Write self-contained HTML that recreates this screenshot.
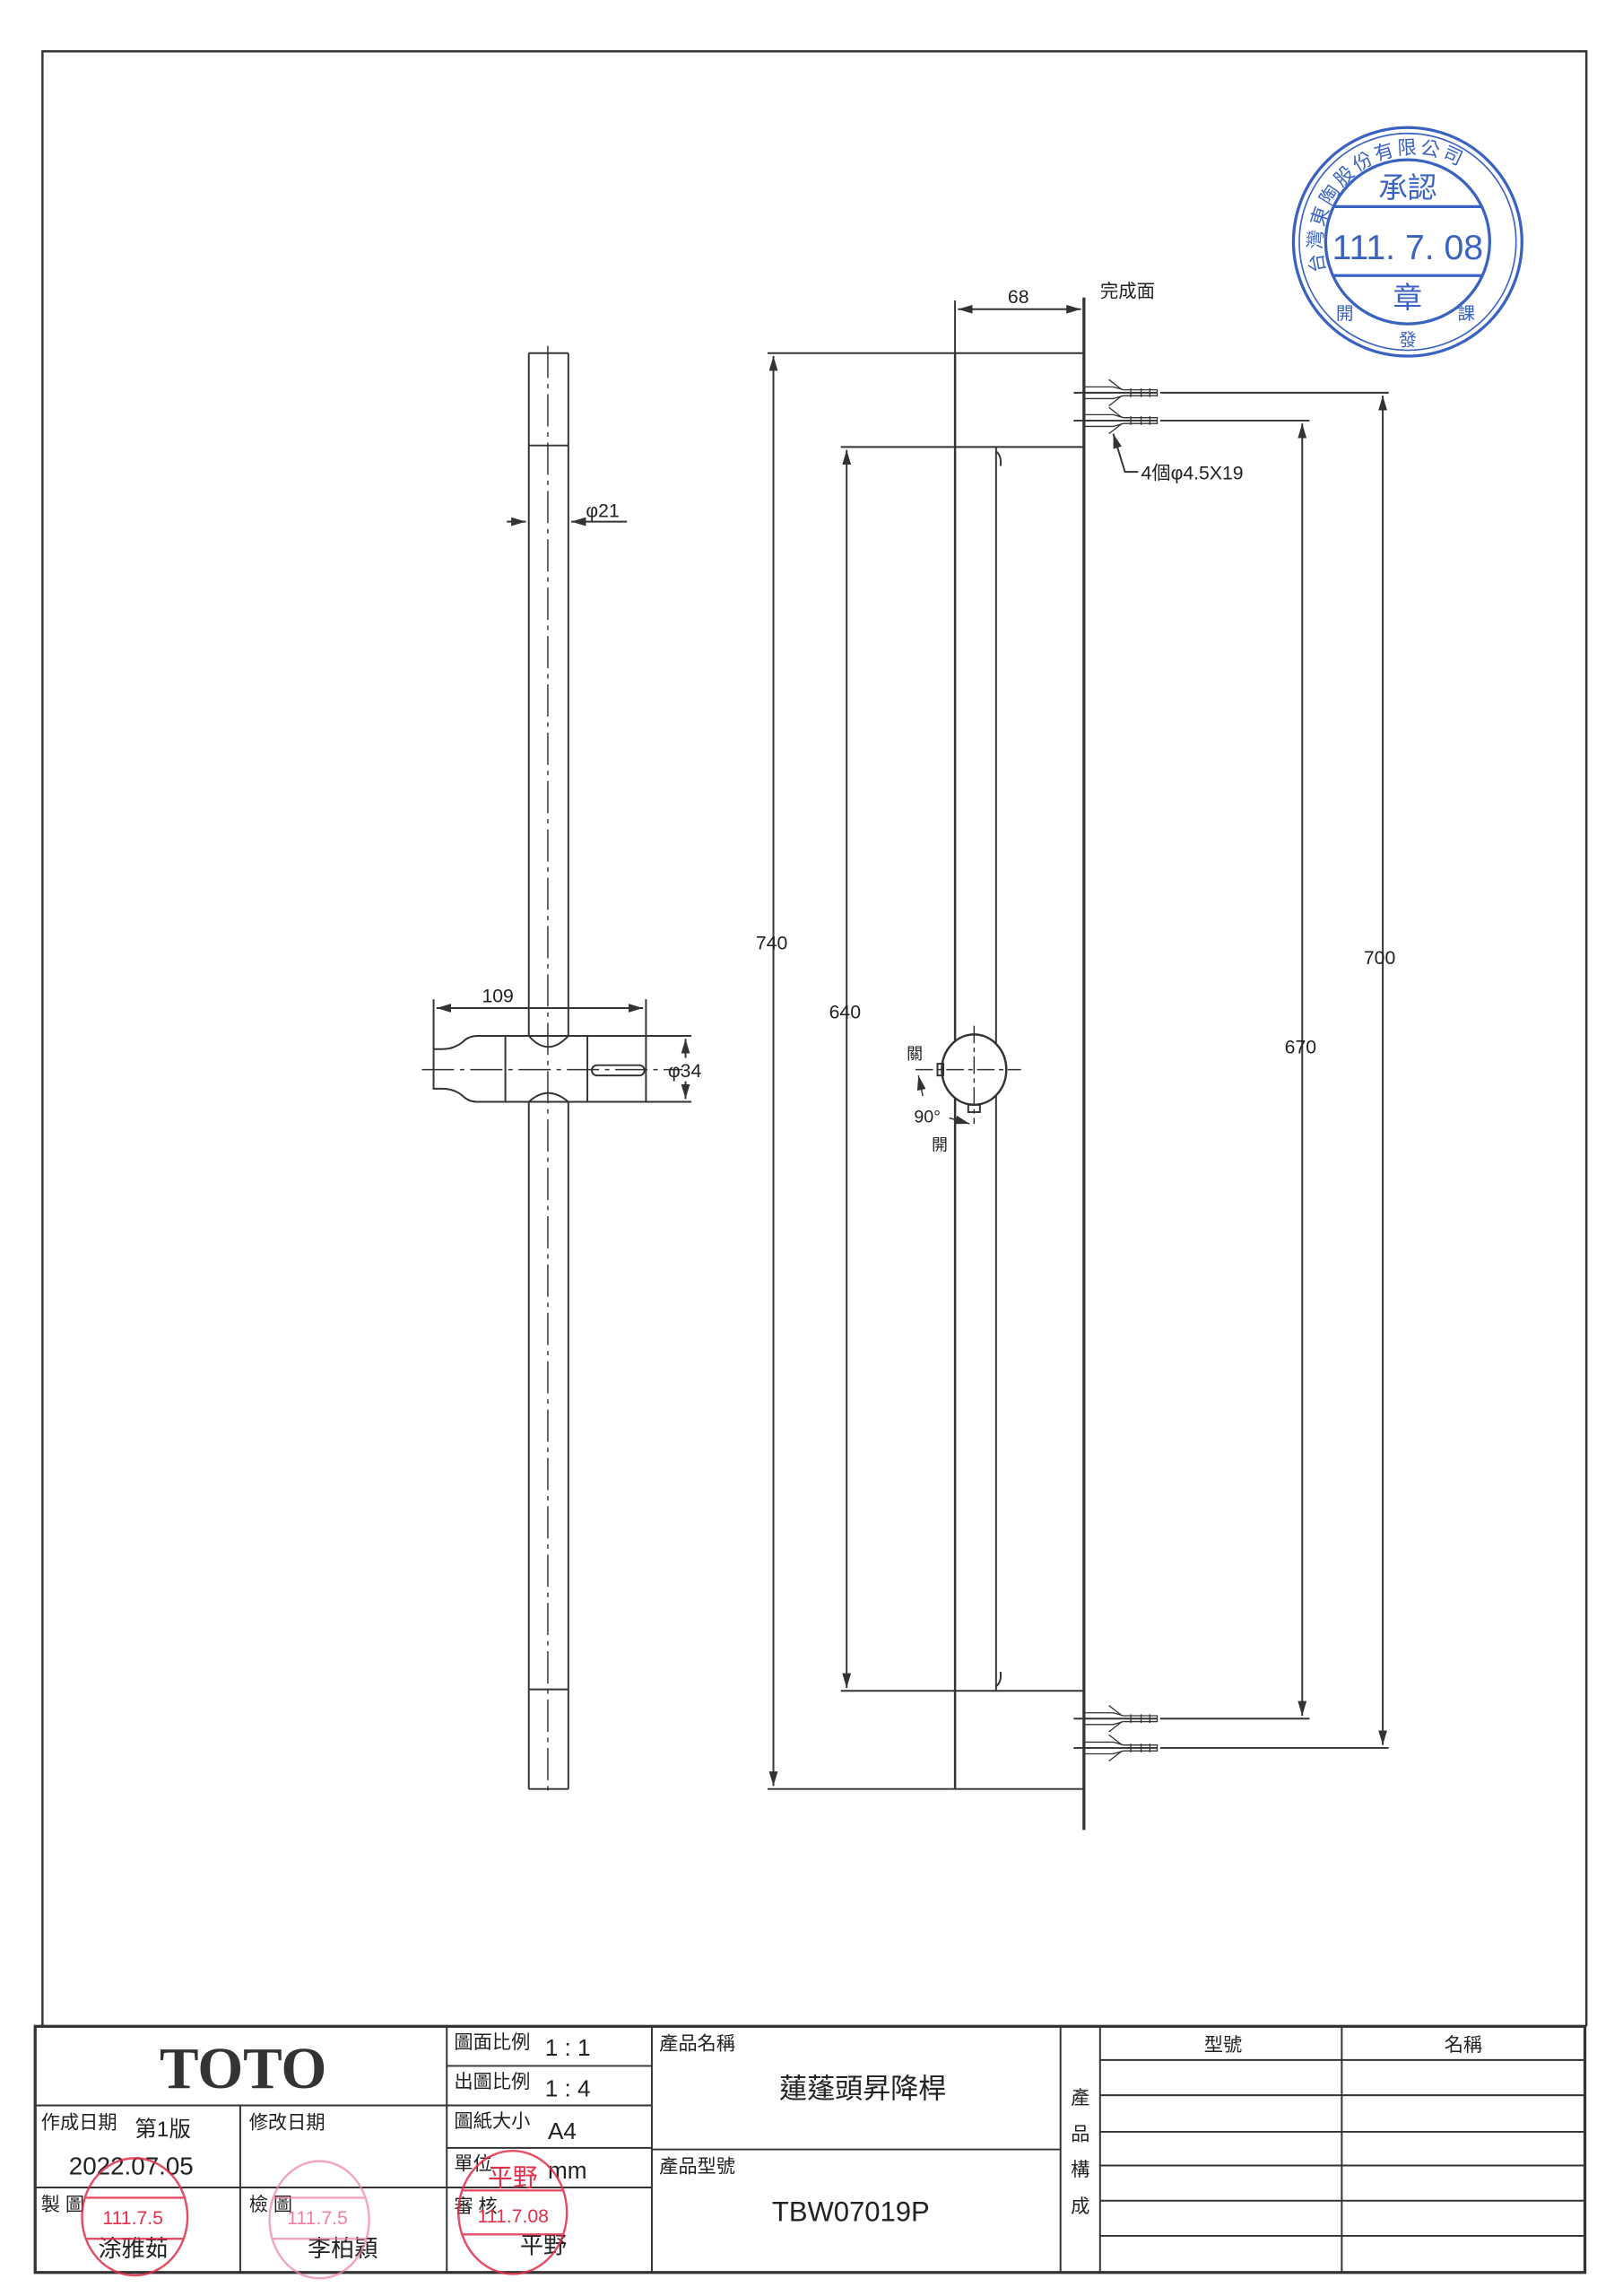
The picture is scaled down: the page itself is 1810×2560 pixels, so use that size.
<!DOCTYPE html>
<html><head><meta charset="utf-8"><style>
html,body{margin:0;padding:0;background:#fff}
svg{display:block}
text{font-family:"Liberation Sans","Noto Sans CJK TC",sans-serif;fill:#222}
</style></head><body>
<svg width="1810" height="2560" viewBox="0 0 1108 1567" xmlns="http://www.w3.org/2000/svg">
<defs>
<marker id="a" markerWidth="10" markerHeight="6" refX="10" refY="3" orient="auto-start-reverse" markerUnits="userSpaceOnUse"><path d="M0,0 L10,3 L0,6 z" fill="#333"/></marker>
</defs>
<rect width="1108" height="1567" fill="#fff"/>
<g stroke="#333" fill="none" stroke-width="1.2">
<polyline points="29,1383 29,35 1083,35 1083,1383" stroke-width="1.5"/>
<rect x="24" y="1383" width="1058" height="168" stroke-width="2"/>
<line x1="24" y1="1437" x2="305" y2="1437"/>
<line x1="24" y1="1493" x2="445" y2="1493"/>
<line x1="164" y1="1437" x2="164" y2="1551"/>
<line x1="305" y1="1383" x2="305" y2="1551"/>
<line x1="445" y1="1383" x2="445" y2="1551"/>
<line x1="724" y1="1383" x2="724" y2="1551"/>
<line x1="751" y1="1383" x2="751" y2="1551"/>
<line x1="916" y1="1383" x2="916" y2="1551"/>
<line x1="305" y1="1410" x2="445" y2="1410"/>
<line x1="305" y1="1437" x2="445" y2="1437"/>
<line x1="305" y1="1466" x2="445" y2="1466"/>
<line x1="445" y1="1467" x2="724" y2="1467"/>
<line x1="751" y1="1406" x2="1082" y2="1406"/>
<line x1="751" y1="1430" x2="1082" y2="1430"/>
<line x1="751" y1="1455" x2="1082" y2="1455"/>
<line x1="751" y1="1478" x2="1082" y2="1478"/>
<line x1="751" y1="1502" x2="1082" y2="1502"/>
<line x1="751" y1="1526" x2="1082" y2="1526"/>

<line x1="361" y1="241" x2="361" y2="707"/>
<line x1="388" y1="241" x2="388" y2="707"/>
<line x1="361" y1="752" x2="361" y2="1221"/>
<line x1="388" y1="752" x2="388" y2="1221"/>
<line x1="361" y1="241" x2="388" y2="241"/>
<line x1="361" y1="1221" x2="388" y2="1221"/>
<line x1="361" y1="304" x2="388" y2="304"/>
<line x1="361" y1="1153" x2="388" y2="1153"/>
<line x1="374" y1="236" x2="374" y2="1226" stroke-dasharray="22,4,3,4" stroke-width="0.9"/>
<path d="M296,716 L302,716 Q310,716 316,711 Q320,707 326,707 L441,707 L441,752 L326,752 Q320,752 316,748 Q310,743 302,743 L296,743 Z"/>
<line x1="345" y1="707" x2="345" y2="752"/>
<line x1="401" y1="707" x2="401" y2="752"/>
<path d="M361,707 Q374,722 388,707"/>
<path d="M361,752 Q374,740 388,752"/>
<rect x="404" y="727" width="36" height="7" rx="3.5"/>
<line x1="288" y1="730" x2="466" y2="730" stroke-dasharray="22,4,3,4" stroke-width="0.9"/>
<line x1="296" y1="716" x2="296" y2="682"/>
<line x1="441" y1="707" x2="441" y2="682"/>
<line x1="298" y1="688" x2="439" y2="688" marker-start="url(#a)" marker-end="url(#a)"/>
<line x1="441" y1="707" x2="472" y2="707"/>
<line x1="441" y1="752" x2="472" y2="752"/>
<line x1="468" y1="709" x2="468" y2="722" marker-start="url(#a)"/>
<line x1="468" y1="738" x2="468" y2="750" marker-end="url(#a)"/>
<line x1="346" y1="356" x2="359" y2="356" marker-end="url(#a)"/>
<line x1="390" y1="356" x2="428" y2="356" marker-start="url(#a)"/>

<line x1="740" y1="203" x2="740" y2="1249" stroke-width="2"/>
<line x1="652" y1="241" x2="652" y2="1221" stroke-width="1.5"/>
<line x1="652" y1="241" x2="740" y2="241"/>
<line x1="652" y1="305" x2="740" y2="305"/>
<line x1="652" y1="1154" x2="740" y2="1154"/>
<line x1="652" y1="1221" x2="740" y2="1221"/>
<line x1="680" y1="305" x2="680" y2="1154"/>
<path d="M680,308 q4,3 3,10"/><path d="M680,1151 q4,-3 3,-10"/>
<line x1="652" y1="241" x2="652" y2="205"/>
<line x1="654" y1="211" x2="738" y2="211" marker-start="url(#a)" marker-end="url(#a)"/>
<line x1="524" y1="241" x2="652" y2="241"/>
<line x1="524" y1="1221" x2="652" y2="1221"/>
<line x1="528" y1="243" x2="528" y2="1219" marker-start="url(#a)" marker-end="url(#a)"/>
<line x1="574" y1="305" x2="652" y2="305"/>
<line x1="574" y1="1154" x2="652" y2="1154"/>
<line x1="578" y1="307" x2="578" y2="1152" marker-start="url(#a)" marker-end="url(#a)"/>
<g id="anc">
<line x1="733" y1="268" x2="790" y2="268"/>
<path d="M740,264 L760,264 L767,266 L790,266 L790,270 L767,270 L760,272 L740,272" stroke-width="0.8"/>
<path d="M757,259 L766,266 M757,277 L766,270" stroke-width="0.8"/>
<line x1="772" y1="265" x2="772" y2="271" stroke-width="0.8"/><line x1="779" y1="265" x2="779" y2="271" stroke-width="0.8"/><line x1="785" y1="265" x2="785" y2="271" stroke-width="0.8"/>
</g>
<use href="#anc" y="19"/>
<use href="#anc" y="905"/>
<use href="#anc" y="925"/>
<line x1="792" y1="268" x2="948" y2="268"/>
<line x1="792" y1="287" x2="894" y2="287"/>
<line x1="792" y1="1173" x2="894" y2="1173"/>
<line x1="792" y1="1193" x2="948" y2="1193"/>
<line x1="944" y1="270" x2="944" y2="1191" marker-start="url(#a)" marker-end="url(#a)"/>
<line x1="889" y1="289" x2="889" y2="1171" marker-start="url(#a)" marker-end="url(#a)"/>
<polyline points="777,322 768,322 760,296" marker-end="url(#a)"/>
<ellipse cx="665" cy="730" rx="22" ry="24" fill="#fff" stroke-width="1.5"/>
<rect x="640" y="726" width="4" height="8"/>
<rect x="661" y="754" width="8" height="5"/>
<line x1="625" y1="730" x2="697" y2="730" stroke-dasharray="12,3,3,3" stroke-width="0.9"/>
<line x1="665" y1="700" x2="665" y2="767" stroke-dasharray="12,3,3,3" stroke-width="0.9"/>
<line x1="630" y1="748" x2="627" y2="734" marker-end="url(#a)" stroke-width="0.9"/>
<line x1="648" y1="763" x2="662" y2="767" marker-end="url(#a)" stroke-width="0.9"/>
</g>

<g font-size="13">
<text x="400" y="353">φ21</text>
<text x="329" y="684">109</text>
<text x="456" y="735">φ34</text>
<text x="688" y="207">68</text>
<text x="751" y="203" font-size="12.5">完成面</text>
<text x="779" y="327">4個φ4.5X19</text>
<text x="516" y="648">740</text>
<text x="566" y="695">640</text>
<text x="931" y="658">700</text>
<text x="877" y="719">670</text>
<text x="619" y="723" font-size="11">關</text>
<text x="624" y="766" font-size="12">90°</text>
<text x="636" y="785" font-size="11">開</text>
</g>

<text x="166" y="1425" style="font-family:'Liberation Serif',serif;font-weight:bold;font-size:40px;fill:#333" text-anchor="middle">TOTO</text>
<g font-size="13">
<text x="310" y="1398">圖面比例</text><text x="372" y="1403" font-size="16">1 : 1</text>
<text x="310" y="1425">出圖比例</text><text x="372" y="1431" font-size="16">1 : 4</text>
<text x="310" y="1452">圖紙大小</text><text x="374" y="1460" font-size="16">A4</text>
<text x="310" y="1481">單位</text><text x="374" y="1487" font-size="16">mm</text>
<text x="310" y="1510">審 核</text>
<text x="450" y="1399">產品名稱</text>
<text x="450" y="1483">產品型號</text>
<text x="28" y="1453">作成日期</text><text x="92" y="1458" font-size="15">第1版</text>
<text x="170" y="1453">修改日期</text>
<text x="47" y="1484" font-size="17">2022.07.05</text>
<text x="28" y="1509">製 圖</text>
<text x="170" y="1509">檢 圖</text>
<text x="67" y="1540" font-size="16">涂雅茹</text>
<text x="210" y="1540" font-size="16">李柏穎</text>
<text x="355" y="1538" font-size="16">平野</text>
<text x="532" y="1432" font-size="19">蓮蓬頭昇降桿</text>
<text x="527" y="1516" font-size="19">TBW07019P</text>
<text x="822" y="1400">型號</text>
<text x="986" y="1400">名稱</text>
<text x="731" y="1436">產</text><text x="731" y="1461">品</text><text x="731" y="1485">構</text><text x="731" y="1510">成</text>
</g>

<g fill="none" stroke="#e0304a" stroke-width="1.5" opacity="0.85">
<ellipse cx="92" cy="1513" rx="36" ry="40"/><line x1="58" y1="1500" x2="126" y2="1500"/><line x1="58" y1="1528" x2="126" y2="1528"/>
<ellipse cx="350" cy="1510" rx="37" ry="42"/><line x1="315" y1="1495" x2="385" y2="1495"/><line x1="315" y1="1525" x2="385" y2="1525"/>
</g>
<g fill="none" stroke="#f080a8" stroke-width="1.5" opacity="0.7">
<ellipse cx="218" cy="1515" rx="34" ry="40"/><line x1="186" y1="1500" x2="250" y2="1500"/><line x1="186" y1="1528" x2="250" y2="1528"/>
</g>
<g font-size="13">
<text x="70" y="1518" style="fill:#e0304a">111.7.5</text>
<text x="196" y="1518" style="fill:#f080a8">111.7.5</text>
<text x="326" y="1517" style="fill:#e0304a">111.7.08</text>
<text x="333" y="1492" font-size="17" style="fill:#e0304a">平野</text>
</g>

<g fill="none" stroke="#3a62c0" stroke-width="2">
<circle cx="961" cy="165" r="78"/>
<circle cx="961" cy="165" r="74" stroke-width="1"/>
<circle cx="961" cy="165" r="56"/>
<line x1="910" y1="141" x2="1012" y2="141"/>
<line x1="910" y1="188" x2="1012" y2="188"/>
</g>
<text x="961" y="135" font-size="20" text-anchor="middle" style="fill:#3a62c0">承認</text>
<text x="961" y="177" text-anchor="middle" style="fill:#3a62c0;font-size:24px;font-family:'Liberation Sans Narrow','Liberation Sans',sans-serif">111. 7. 08</text>
<text x="961" y="210" font-size="20" text-anchor="middle" style="fill:#3a62c0">章</text>
<text x="961" y="236" font-size="12" text-anchor="middle" style="fill:#3a62c0">發</text>
<text x="912" y="218" font-size="12" style="fill:#3a62c0">開</text>
<text x="995" y="218" font-size="12" style="fill:#3a62c0">課</text>
<path id="arc" d="M905,185 A61,61 0 1,1 1025,150" fill="none"/>
<text font-size="13" style="fill:#3a62c0;letter-spacing:2px"><textPath href="#arc">台灣東陶股份有限公司</textPath></text>
</svg>
</body></html>
